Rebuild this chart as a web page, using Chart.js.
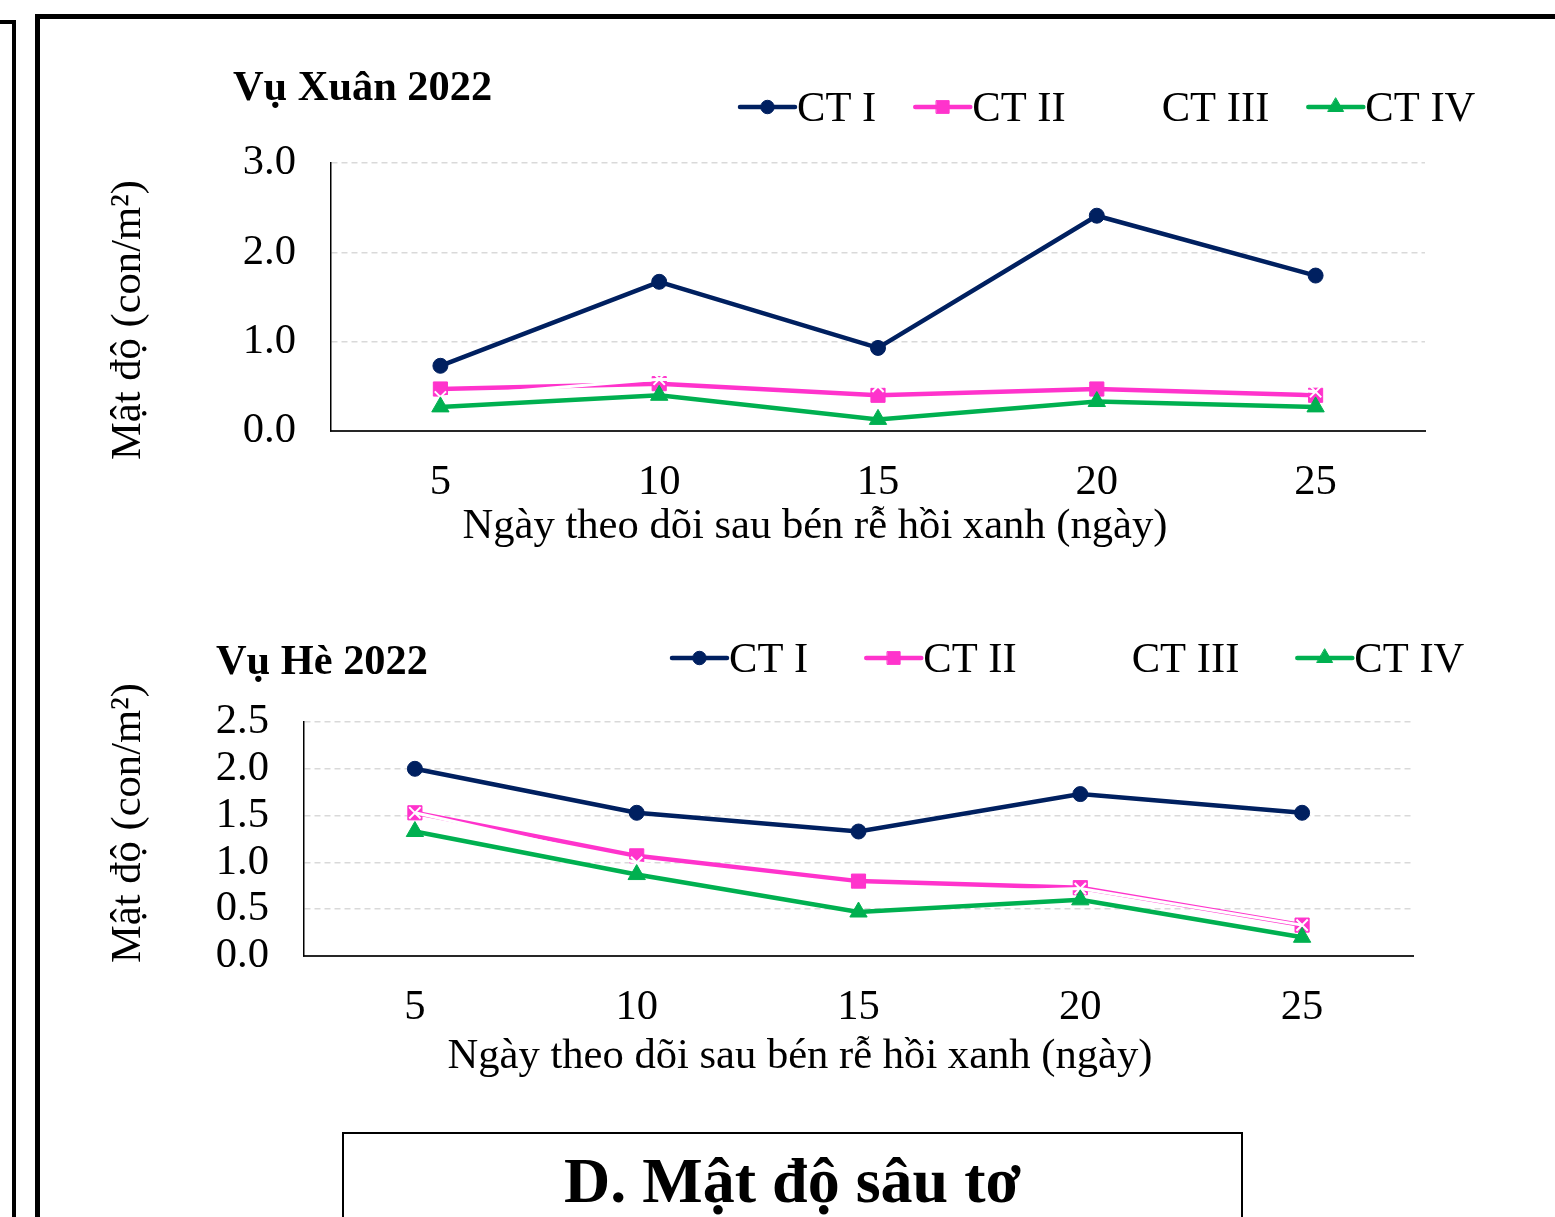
<!DOCTYPE html>
<html>
<head>
<meta charset="utf-8">
<script src="https://cdn.jsdelivr.net/npm/chart.js@4"></script>
<style>
  body { margin: 0; background: #fff; width: 1555px; height: 1217px; overflow: hidden; position: relative; font-family: 'Liberation Serif', 'Times New Roman', serif; }
  #frameLeft { position: absolute; left: -30px; top: 20px; width: 38px; height: 1300px; border: 4px solid #000; }
  #frameMain { position: absolute; left: 35px; top: 14px; width: 1600px; height: 1300px; border: 5px solid #000; }
  canvas { position: absolute; left: 0; }
  #c1 { top: 0; }
  #c2 { top: 560px; }
  #caption { position: absolute; left: 342px; top: 1132px; width: 897px; height: 200px; border: 2px solid #000; background: #fff; }
  #captionText { position: absolute; left: 342px; width: 901px; top: 1149px; text-align: center; font-weight: bold; font-size: 64px; line-height: 64px; color: #000; }
</style>
</head>
<body>
<div id="frameLeft"></div>
<div id="frameMain"></div>
<canvas id="c1" width="1555" height="600"></canvas>
<canvas id="c2" width="1555" height="560"></canvas>
<div id="caption"></div>
<div id="captionText">D. Mật độ sâu tơ</div>
<script>
// Données
const days = ['5', '10', '15', '20', '25'];
const seriesNames = ['CT I', 'CT II', 'CT III', 'CT IV'];

// Vụ Xuân 2022
const xuanCT1 = [0.73, 1.67, 0.93, 2.41, 1.74];
const xuanCT2 = [0.47, 0.53, 0.40, 0.47, 0.40];
const xuanCT3 = [0.38, 0.58, 0.50, 0.65, 0.44];
const xuanCT4 = [0.27, 0.40, 0.13, 0.33, 0.27];

// Vụ Hè 2022
const heCT1 = [2.00, 1.53, 1.33, 1.73, 1.53];
const heCT2 = [1.53, 1.07, 0.80, 0.73, 0.33];
const heCT3 = [1.53, 1.00, 0.65, 0.72, 0.33];
const heCT4 = [1.33, 0.87, 0.47, 0.60, 0.20];

const xuanTicks = [0, 1, 2, 3];
const heTicks = [0, 0.5, 1, 1.5, 2, 2.5];

const xTitle = 'Ngày theo dõi sau bén rễ hồi xanh (ngày)';
const yTitle = 'Mật độ (con/m²)';

const FONT = "'Liberation Serif', 'Times New Roman', serif";
const FS = 42.6;
Chart.defaults.font.family = FONT;
Chart.defaults.font.size = FS;
Chart.defaults.color = '#000';

// Styles des séries (comme dans Excel)
const styles = [
  { color: '#002060', point: 'circle', radius: 7.5, width: 4.5, order: 3 },
  { color: '#FF33CC', point: 'rect', radius: 10, width: 4.5, order: 2 },
  { color: '#FFFFFF', point: 'crossRot', radius: 8, width: 3, order: 1 },
  { color: '#00B050', point: 'triangle', radius: 10, width: 4.5, order: 0 }
];

function makeDatasets(values) {
  return values.map((data, i) => ({
    label: seriesNames[i],
    data: data,
    borderColor: styles[i].color,
    backgroundColor: styles[i].color,
    borderWidth: styles[i].width,
    pointStyle: styles[i].point,
    pointRadius: styles[i].radius,
    pointBorderWidth: i === 2 ? 2 : 1,
    pointBorderColor: styles[i].color,
    pointBackgroundColor: styles[i].color,
    tension: 0,
    order: styles[i].order
  }));
}

// Titre, légende et titres des axes dessinés sur le canvas
const decorPlugin = {
  id: 'decor',
  afterDraw(chart, args, opts) {
    const ctx = chart.ctx;
    ctx.save();
    ctx.fillStyle = '#000';
    ctx.textBaseline = 'alphabetic';

    ctx.font = 'bold 42.4px ' + FONT;
    ctx.textAlign = 'left';
    ctx.fillText(opts.title, opts.titleX, opts.titleY);

    ctx.font = FS + 'px ' + FONT;
    ctx.textAlign = 'center';
    ctx.fillText(xTitle, opts.xTitleX, opts.xTitleY);

    ctx.save();
    ctx.translate(opts.yTitleX, opts.yTitleY);
    ctx.rotate(-Math.PI / 2);
    ctx.fillText(yTitle, 0, 0);
    ctx.restore();

    // Légende : ligne + marqueur + texte
    ctx.textAlign = 'left';
    let x = opts.legendX;
    const yMid = opts.legendY - 14;
    chart.data.datasets.forEach(ds => {
      ctx.strokeStyle = ds.borderColor;
      ctx.lineWidth = 4.5;
      ctx.lineCap = 'round';
      ctx.beginPath();
      ctx.moveTo(x, yMid);
      ctx.lineTo(x + 55, yMid);
      ctx.stroke();
      ctx.fillStyle = ds.pointBackgroundColor;
      ctx.strokeStyle = ds.pointBorderColor;
      ctx.lineWidth = ds.pointBorderWidth;
      Chart.helpers.drawPoint(ctx, {
        pointStyle: ds.pointStyle,
        radius: ds.pointRadius * 0.9,
        rotation: 0,
        borderWidth: ds.pointBorderWidth
      }, x + 27.5, yMid);
      ctx.fillStyle = '#000';
      ctx.fillText(ds.label, x + 57, opts.legendY);
      x += 57 + ctx.measureText(ds.label).width + opts.legendGap;
    });
    ctx.restore();
  }
};

function makeChart(canvasId, values, ticks, yMax, layout, decor) {
  const canvas = document.getElementById(canvasId);
  return new Chart(canvas.getContext('2d'), {
    type: 'line',
    data: { labels: days, datasets: makeDatasets(values) },
    plugins: [decorPlugin],
    options: {
      responsive: false,
      animation: false,
      layout: { padding: { left: 0, right: layout.right, top: layout.top, bottom: 0 } },
      plugins: {
        legend: { display: false },
        tooltip: { enabled: false },
        decor: decor
      },
      scales: {
        x: {
          type: 'category',
          offset: true,
          grid: { display: false, drawTicks: false },
          border: { display: true, color: '#262626', width: 2 },
          ticks: { padding: 26, color: '#000', autoSkip: false, maxRotation: 0 },
          afterFit: scale => { scale.height = layout.xHeight; }
        },
        y: {
          min: 0,
          max: yMax,
          afterBuildTicks: scale => { scale.ticks = ticks.map(v => ({ value: v })); },
          grid: {
            drawTicks: false,
            lineWidth: 1.5,
            color: c => (c.tick && c.tick.value === 0 ? 'rgba(0,0,0,0)' : '#d9d9d9')
          },
          border: { display: true, color: '#000', width: 1.5, dash: [6, 4] },
          ticks: { padding: 35, color: '#000', autoSkip: false, callback: v => Number(v).toFixed(1) },
          afterFit: scale => { scale.width = layout.yWidth; }
        }
      }
    }
  });
}

makeChart('c1', [xuanCT1, xuanCT2, xuanCT3, xuanCT4], xuanTicks, 3,
  { right: 130, top: 163, xHeight: 169, yWidth: 331 },
  { title: 'Vụ Xuân 2022', titleX: 233, titleY: 100,
    xTitleX: 815, xTitleY: 538, yTitleX: 140, yTitleY: 320,
    legendX: 740, legendY: 121, legendGap: 39 });

makeChart('c2', [heCT1, heCT2, heCT3, heCT4], heTicks, 2.5,
  { right: 142, top: 162, xHeight: 164, yWidth: 304 },
  { title: 'Vụ Hè 2022', titleX: 216, titleY: 114,
    xTitleX: 800, xTitleY: 508, yTitleX: 140, yTitleY: 263,
    legendX: 672, legendY: 112, legendGap: 58 });
</script>
</body>
</html>
